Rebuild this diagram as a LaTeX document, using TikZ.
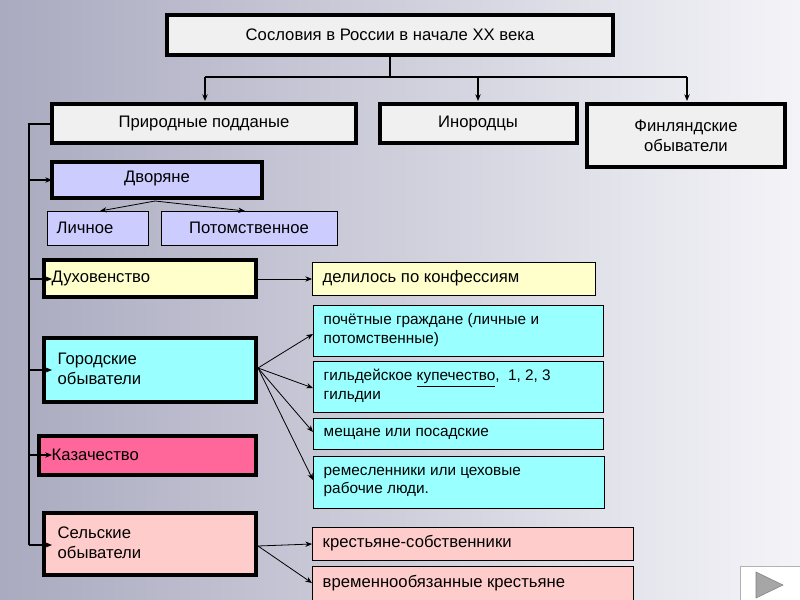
\documentclass[tikz,border=0pt]{standalone}
\usepackage{fontspec}
\setmainfont{Liberation Sans}
\usetikzlibrary{arrows.meta}
\definecolor{lav}{HTML}{CCCCFF}
\definecolor{lyel}{HTML}{FFFFCC}
\definecolor{cyan1}{HTML}{99FFFF}
\definecolor{pinkd}{HTML}{FF6699}
\definecolor{pinkl}{HTML}{FFCCCC}
\definecolor{boxg}{HTML}{F0F0F0}
\tikzset{
 x=0.75pt,y=-0.75pt,
 big/.style={draw=black,line width=3.5pt,inner sep=0pt},
 thin/.style={draw=black,line width=0.6pt,inner sep=0pt},
 conn/.style={line width=0.6pt,-{Stealth[length=5pt,width=4pt]}},
 bus/.style={line width=2.2pt},
 lbl/.style={font=\fontsize{12.5}{15}\selectfont,align=left,anchor=west},
 slbl/.style={font=\fontsize{11.5}{14}\selectfont,align=left,anchor=west},
 clbl/.style={font=\fontsize{12.5}{15}\selectfont,align=center},
}
\begin{document}
\begin{tikzpicture}
\useasboundingbox (0,0) rectangle (800,600);
\shade[left color={rgb,255:red,170;green,170;blue,192},right color={rgb,255:red,244;green,244;blue,248}] (0,0) rectangle (800,600);
% boxes
\draw[big,fill=boxg] (167,15) rectangle (613,55);
\node[clbl] (t) at (390,35) {Сословия в России в начале XX века};
\draw[big,fill=boxg] (52,104) rectangle (356,143);
\node[clbl] (p) at (204,123.5) {Природные подданые};
\draw[big,fill=boxg] (380,104) rectangle (577,143);
\node[clbl] (i) at (478,123.5) {Инородцы};
\draw[big,fill=boxg] (587,104) rectangle (785,167);
\node[clbl] (f) at (686,135.5) {Финляндские\\обыватели};
\coordinate (tb) at (390,57);
\coordinate (pt) at (205,101);
\coordinate (it) at (478,101);
\coordinate (ft) at (687,101);
\draw[line width=1.5pt] (tb) -- (390,77) (205,77) -- (687,77);
\draw[conn,line width=1.5pt] (205,77) -- (pt);
\draw[conn,line width=1.5pt] (478,77) -- (it);
\draw[conn,line width=1.5pt] (687,77) -- (ft);
% left side
\draw[big,fill=lav] (52,162) rectangle (262,198);
\node[clbl] (d) at (157,178) {Дворяне};
\draw[thin,fill=lav] (47,211) rectangle (148,245);
\node[lbl] (l) at (52,228) {Личное};
\draw[thin,fill=lav] (161,211) rectangle (337,245);
\node[clbl] (po) at (249,228) {Потомственное};
\coordinate (db) at (155,201);
\coordinate (lt) at (100,211);
\coordinate (pot) at (245,211);
\draw[conn] (db) -- (lt);
\draw[conn] (db) -- (pot);
\draw[big,fill=lyel] (44,260) rectangle (256,297);
\node[lbl] (du) at (47,278) {Духовенство};
\draw[thin,fill=lyel] (312,262) rectangle (595,295);
\node[lbl] (k) at (318,278) {делилось по конфессиям};
\draw[conn] (258,279) -- (312,279);
\draw[big,fill=cyan1] (44,338) rectangle (256,402);
\node[lbl] (g) at (53,369) {Городские\\обыватели};
\draw[big,fill=pinkd] (39,436) rectangle (256,475);
\node[lbl] (ka) at (47,455) {Казачество};
\draw[big,fill=pinkl] (44,513) rectangle (256,575);
\node[lbl] (s) at (53,543) {Сельские\\обыватели};
% city subboxes
\draw[thin,fill=cyan1] (313,305) rectangle (603,356);
\node[slbl] (g1) at (319,330) {почётные граждане (личные и\\потомственные)};
\draw[thin,fill=cyan1] (313,361) rectangle (603,412);
\node[slbl] (g2) at (319,386) {гильдейское \underline{купечество},\ \ 1, 2, 3\\гильдии};
\draw[thin,fill=cyan1] (313,418) rectangle (603,449);
\node[slbl] (g3) at (319,434) {мещане или посадские};
\draw[thin,fill=cyan1] (313,456) rectangle (604,508);
\node[slbl] (g4) at (319,482) {ремесленники или цеховые\\рабочие люди.};
\coordinate (gs) at (258,368);
\draw[conn] (gs) -- (313,334);
\draw[conn] (gs) -- (313,388);
\draw[conn] (gs) -- (313,432);
\draw[conn] (gs) -- (313,480);
\draw[thin,fill=pinkl] (312,527) rectangle (633,560);
\node[lbl] (s1) at (318,543.5) {крестьяне-собственники};
\draw[thin,fill=pinkl] (312,566) rectangle (633,600);
\node[lbl] (s2) at (318,583) {временнообязанные крестьяне};
\coordinate (ss) at (258,546);
\draw[conn] (ss) -- (312,544);
\draw[conn] (ss) -- (312,583);
% bus
\draw[bus] (29,124) -- (29,545);
\draw[bus] (28,124) -- (52,124);
\foreach \yy in {180,279,370,455,545}
  \draw[conn,line width=1.5pt] (29,\yy) -- (52,\yy);
% nav button
\draw[fill=white,draw=gray!60] (740,566) rectangle (800,600);
\fill[gray!70!white,draw=gray] (756,572) -- (783,585) -- (756,598) -- cycle;
\end{tikzpicture}
\end{document}
